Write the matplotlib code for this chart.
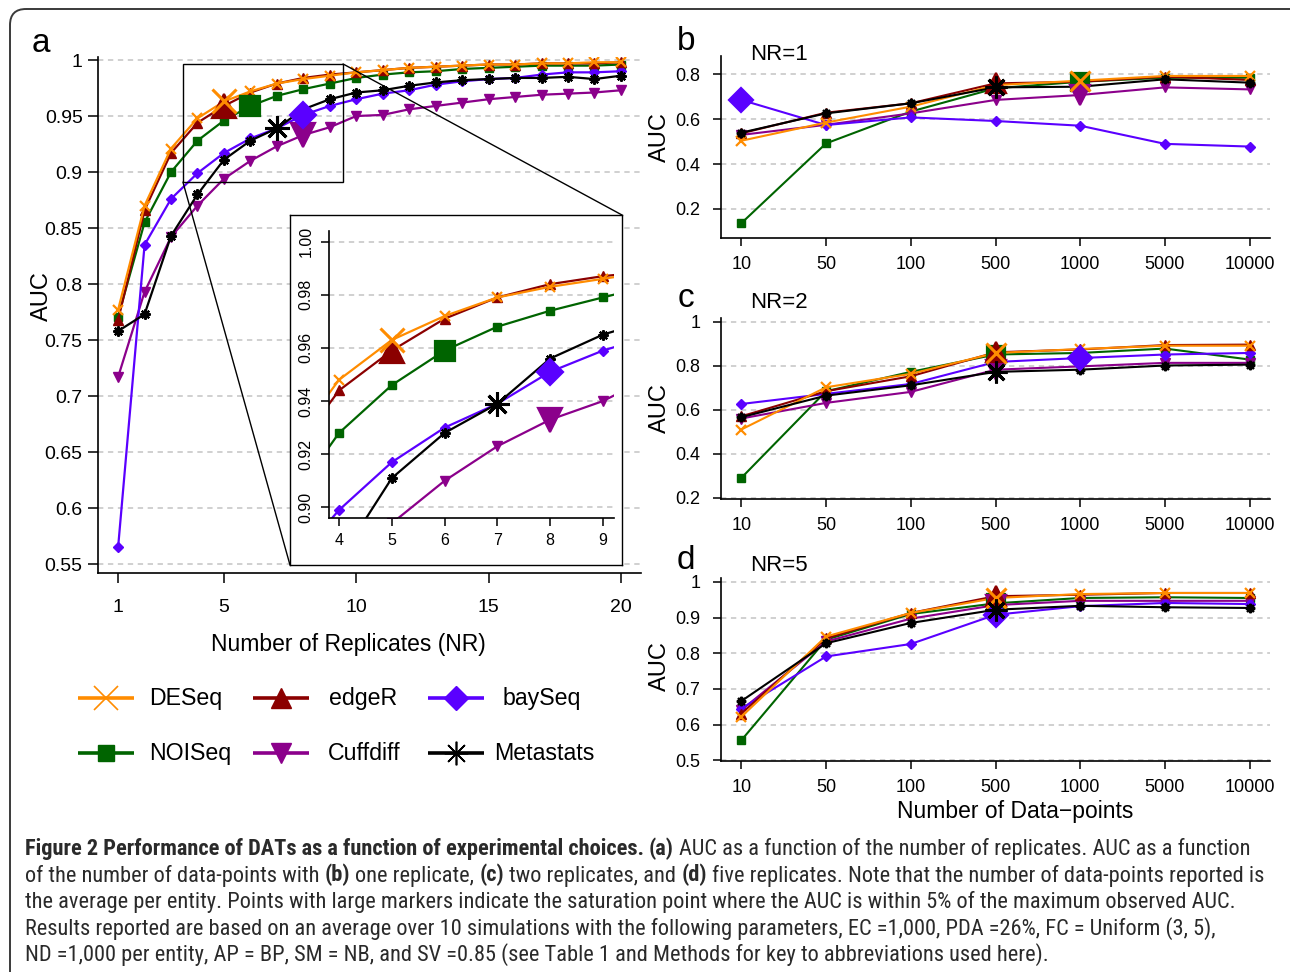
import matplotlib
matplotlib.use('Agg')
import matplotlib.pyplot as plt
from matplotlib.patches import Rectangle, FancyBboxPatch, ConnectionPatch
from matplotlib import font_manager

W, H = 1290, 972
plt.rcParams['font.family'] = ['Liberation Sans', 'DejaVu Sans']

# ---- data: panel a, AUC vs number of replicates ----
nr = list(range(1, 21))
deseq_a = [0.777, 0.870, 0.921, 0.948, 0.963, 0.972, 0.979, 0.983, 0.986, 0.989,
           0.991, 0.993, 0.994, 0.995, 0.996, 0.996, 0.997, 0.997, 0.998, 0.998]
edger_a = [0.768, 0.866, 0.917, 0.944, 0.959, 0.971, 0.979, 0.984, 0.987, 0.989,
           0.991, 0.993, 0.994, 0.995, 0.996, 0.996, 0.997, 0.997, 0.997, 0.998]
bayseq_a = [0.565, 0.835, 0.876, 0.899, 0.917, 0.930, 0.939, 0.951, 0.959, 0.965,
            0.970, 0.973, 0.978, 0.981, 0.983, 0.984, 0.987, 0.989, 0.989, 0.990]
noiseq_a = [0.771, 0.855, 0.900, 0.928, 0.946, 0.959, 0.968, 0.974, 0.979, 0.984,
            0.987, 0.989, 0.990, 0.992, 0.993, 0.994, 0.995, 0.995, 0.995, 0.996]
cuffdiff_a = [0.717, 0.793, 0.842, 0.870, 0.894, 0.910, 0.923, 0.933, 0.940, 0.950,
              0.951, 0.956, 0.959, 0.962, 0.965, 0.967, 0.969, 0.970, 0.971, 0.973]
metastats_a = [0.758, 0.773, 0.843, 0.880, 0.911, 0.928, 0.939, 0.956, 0.965, 0.971,
               0.973, 0.977, 0.980, 0.982, 0.983, 0.984, 0.984, 0.985, 0.983, 0.986]
# index of the saturation point (large marker)
sat_a = {'DESeq': 4, 'edgeR': 4, 'baySeq': 7, 'NOISeq': 5, 'Cuffdiff': 7, 'Metastats': 6}

# ---- data: panels b-d, AUC vs number of data-points ----
dp_labels = ['10', '50', '100', '500', '1000', '5000', '10000']

deseq_b = [0.504, 0.585, 0.656, 0.752, 0.772, 0.793, 0.793]
edger_b = [0.537, 0.629, 0.671, 0.760, 0.767, 0.790, 0.775]
bayseq_b = [0.686, 0.574, 0.608, 0.592, 0.571, 0.490, 0.478]
noiseq_b = [0.136, 0.492, 0.634, 0.738, 0.767, 0.785, 0.785]
cuffdiff_b = [0.530, 0.575, 0.626, 0.686, 0.708, 0.742, 0.733]
metastats_b = [0.540, 0.626, 0.671, 0.742, 0.745, 0.778, 0.763]
sat_b = {'DESeq': 4, 'edgeR': 3, 'baySeq': 0, 'NOISeq': 4, 'Cuffdiff': 4, 'Metastats': 3}

deseq_c = [0.511, 0.703, 0.764, 0.859, 0.877, 0.892, 0.892]
edger_c = [0.571, 0.685, 0.753, 0.862, 0.875, 0.895, 0.897]
bayseq_c = [0.627, 0.673, 0.718, 0.818, 0.836, 0.852, 0.859]
noiseq_c = [0.291, 0.685, 0.773, 0.852, 0.859, 0.879, 0.829]
cuffdiff_c = [0.561, 0.632, 0.682, 0.783, 0.798, 0.814, 0.814]
metastats_c = [0.567, 0.665, 0.712, 0.773, 0.783, 0.802, 0.806]
sat_c = {'DESeq': 3, 'edgeR': 3, 'baySeq': 4, 'NOISeq': 3, 'Cuffdiff': 3, 'Metastats': 3}

deseq_d = [0.622, 0.847, 0.913, 0.955, 0.966, 0.969, 0.969]
edger_d = [0.631, 0.842, 0.913, 0.960, 0.964, 0.969, 0.969]
bayseq_d = [0.645, 0.791, 0.826, 0.908, 0.932, 0.941, 0.938]
noiseq_d = [0.556, 0.838, 0.910, 0.940, 0.955, 0.957, 0.955]
cuffdiff_d = [0.641, 0.833, 0.897, 0.935, 0.947, 0.947, 0.947]
metastats_d = [0.666, 0.828, 0.885, 0.922, 0.933, 0.929, 0.927]
sat_d = {'DESeq': 3, 'edgeR': 3, 'baySeq': 3, 'NOISeq': 3, 'Cuffdiff': 3, 'Metastats': 3}

methods = ['DESeq', 'edgeR', 'baySeq', 'NOISeq', 'Cuffdiff', 'Metastats']
colors = {'DESeq': '#ff8c00', 'edgeR': '#8b0000', 'baySeq': '#5a00ff',
          'NOISeq': '#006400', 'Cuffdiff': '#8b008b', 'Metastats': '#000000'}
asterisk = (8, 2, 0)
markers = {'DESeq': 'x', 'edgeR': '^', 'baySeq': 'D', 'NOISeq': 's',
           'Cuffdiff': 'v', 'Metastats': asterisk}
msize = {'DESeq': 1.0, 'edgeR': 1.0, 'baySeq': 0.8, 'NOISeq': 0.85,
         'Cuffdiff': 1.0, 'Metastats': 1.05}
draw_order = ['NOISeq', 'Cuffdiff', 'baySeq', 'edgeR', 'DESeq', 'Metastats']

fig = plt.figure(figsize=(W / 100, H / 100), dpi=100)


def px_axes(l, t, r, b, **kw):
    return fig.add_axes([l / W, 1 - b / H, (r - l) / W, (b - t) / H], **kw)


def style(ax, size):
    for s in ['top', 'right']:
        ax.spines[s].set_visible(False)
    for s in ['left', 'bottom']:
        ax.spines[s].set_linewidth(1.2)
    ax.tick_params(direction='out', length=7, width=1.1, labelsize=size, colors='black')


def grid(ax, ys):
    for y in ys:
        ax.axhline(y, color='#c4c4c4', lw=1.1, dashes=(3.5, 3), zorder=0.5)


def draw(ax, x, data, sat, small, big, lw):
    for m in draw_order:
        y = data[m]
        mew = 1.6 if m in ('DESeq', 'Metastats') else 1
        ax.plot(x, y, color=colors[m], lw=lw, marker=markers[m], ms=small * msize[m],
                mfc=colors[m], mec=colors[m], mew=mew, zorder=2)
        i = sat[m]
        ax.plot([x[i]], [y[i]], marker=markers[m], ms=big * msize[m], color=colors[m],
                mfc=colors[m], mec=colors[m], mew=mew + 0.6, zorder=3)


# ---- panel a ----
ax_a = px_axes(98, 57, 641, 573)
style(ax_a, 14)
ax_a.set_xlim(0.24, 20.76)
ax_a.set_ylim(0.542, 1.0027)
yt = [0.55, 0.6, 0.65, 0.7, 0.75, 0.8, 0.85, 0.9, 0.95, 1.0]
ax_a.set_yticks(yt)
ax_a.set_yticklabels(['0.55', '0.6', '0.65', '0.7', '0.75', '0.8', '0.85', '0.9', '0.95', '1'])
ax_a.set_xticks([1, 5, 10, 15, 20])
ax_a.tick_params(axis='x', pad=12)
ax_a.tick_params(axis='y', pad=4)
grid(ax_a, yt)
data_a = {'DESeq': deseq_a, 'edgeR': edger_a, 'baySeq': bayseq_a, 'NOISeq': noiseq_a,
          'Cuffdiff': cuffdiff_a, 'Metastats': metastats_a}
draw(ax_a, nr, data_a, sat_a, 7, 17, 1.6)
ax_a.add_patch(Rectangle((3.45, 0.891), 6.05, 0.1055, fill=False, ec='black', lw=1, zorder=4))

# inset box and zoomed axes
box = px_axes(290, 215, 622, 565)
box.set_xticks([])
box.set_yticks([])
for s in box.spines.values():
    s.set_linewidth(1)
ins = px_axes(329, 231, 614, 518)
style(ins, 11.5)
ins.set_xlim(3.81, 9.21)
ins.set_ylim(0.896, 1.004)
it = [0.90, 0.92, 0.94, 0.96, 0.98, 1.00]
ins.set_yticks(it)
ins.set_yticklabels(['0.90', '0.92', '0.94', '0.96', '0.98', '1.00'], rotation=90, va='center')
ins.set_xticks([4, 5, 6, 7, 8, 9])
ins.tick_params(length=6, pad=5)
grid(ins, it)
draw(ins, nr, data_a, sat_a, 7, 17, 1.6)

# ---- panels b-d ----
xp = list(range(1, 8))
panels = [
    ((56, 238), (0.07, 0.882), [0.2, 0.4, 0.6, 0.8], ['0.2', '0.4', '0.6', '0.8'],
     {'DESeq': deseq_b, 'edgeR': edger_b, 'baySeq': bayseq_b, 'NOISeq': noiseq_b,
      'Cuffdiff': cuffdiff_b, 'Metastats': metastats_b}, sat_b),
    ((318, 499), (0.195, 1.018), [0.2, 0.4, 0.6, 0.8, 1.0], ['0.2', '0.4', '0.6', '0.8', '1'],
     {'DESeq': deseq_c, 'edgeR': edger_c, 'baySeq': bayseq_c, 'NOISeq': noiseq_c,
      'Cuffdiff': cuffdiff_c, 'Metastats': metastats_c}, sat_c),
    ((578, 761), (0.498, 1.011), [0.5, 0.6, 0.7, 0.8, 0.9, 1.0],
     ['0.5', '0.6', '0.7', '0.8', '0.9', '1'],
     {'DESeq': deseq_d, 'edgeR': edger_d, 'baySeq': bayseq_d, 'NOISeq': noiseq_d,
      'Cuffdiff': cuffdiff_d, 'Metastats': metastats_d}, sat_d),
]
for (top, bot), ylim, ticks, labels, data, sat in panels:
    ax = px_axes(721, top, 1270, bot)
    style(ax, 13)
    ax.set_xlim(0.76, 7.24)
    ax.set_ylim(*ylim)
    ax.set_yticks(ticks)
    ax.set_yticklabels(labels)
    ax.set_xticks(xp)
    ax.set_xticklabels(dp_labels)
    ax.tick_params(axis='x', length=6, pad=7)
    ax.tick_params(axis='y', length=6, pad=9)
    grid(ax, ticks)
    draw(ax, xp, data, sat, 6.5, 15, 1.5)

# ---- overlay for labels, legend, caption ----
ov = fig.add_axes([0, 0, 1, 1], zorder=10)
ov.set_xlim(0, W)
ov.set_ylim(H, 0)
ov.axis('off')

ov.add_patch(FancyBboxPatch((10, 9), 1296, 995, boxstyle='round,pad=0,rounding_size=16',
                            fill=False, ec='#3a3a3a', lw=1.4))
for xy_a, xy_b in [((3.45, 0.891), (290, 565)), ((9.50, 0.9965), (622, 215))]:
    ov.add_artist(ConnectionPatch(xyA=xy_a, coordsA=ax_a.transData, xyB=xy_b,
                                  coordsB=ov.transData, color='black', lw=1))

for s, x, y in [('a', 41, 44), ('b', 686, 42), ('c', 686, 298), ('d', 686, 560)]:
    ov.text(x, y, s, fontsize=24, ha='center', va='center')
for s, y in [('NR=1', 55), ('NR=2', 302), ('NR=5', 565)]:
    ov.text(750, y, s, fontsize=16, ha='left', va='center')
ov.text(42, 296, 'AUC', fontsize=17, rotation=90, ha='center', va='center')
for y in [137, 408, 666]:
    ov.text(660, y, 'AUC', fontsize=17, rotation=90, ha='center', va='center')
ov.text(348, 644, 'Number of Replicates (NR)', fontsize=16.5, ha='center', va='center')
ov.text(1015, 811, 'Number of Data\u2212points', fontsize=16.5, ha='center', va='center')

# legend
leg_x = [78, 253, 428]
leg_tx = {'DESeq': 149, 'edgeR': 329, 'baySeq': 503, 'NOISeq': 149, 'Cuffdiff': 328,
          'Metastats': 494}
leg_ms = {'DESeq': 17, 'edgeR': 15, 'baySeq': 12, 'NOISeq': 12, 'Cuffdiff': 15,
          'Metastats': 17}
for i, m in enumerate(methods):
    x0 = leg_x[i % 3]
    y = [698, 753][i // 3]
    ov.plot([x0, x0 + 56], [y, y], color=colors[m], lw=2.6, solid_capstyle='butt')
    ov.plot([x0 + 28], [y], marker=markers[m], ms=leg_ms[m], color=colors[m],
            mfc=colors[m], mec=colors[m], mew=1.2 if m in ('DESeq', 'Metastats') else 1)
    ov.text(leg_tx[m], y, m, fontsize=16.7, ha='left', va='center')

# caption with mixed bold/normal pieces, in a narrow font if one is installed
names = {f.name for f in font_manager.fontManager.ttflist}
condensed = {f.name for f in font_manager.fontManager.ttflist
             if str(f.stretch) in ('condensed', 'semi-condensed', '500', '600', '700')}
cap_font, cap_stretch = 'Open Sans', 'normal'
for cand in ['Liberation Sans Narrow', 'Roboto Condensed', 'Open Sans Condensed',
             'Noto Sans Condensed']:
    if cand in names:
        cap_font = cand
        break
else:
    if 'DejaVu Sans' in condensed:
        cap_font, cap_stretch = 'DejaVu Sans', 'condensed'
    elif 'Open Sans' not in names:
        cap_font = 'Liberation Sans'
rend = fig.canvas.get_renderer()


def text_w(s, size, bold=False):
    t = ov.text(0, 0, s, fontsize=size, family=cap_font, fontstretch=cap_stretch,
                fontweight='bold' if bold else 'normal')
    w = t.get_window_extent(renderer=rend).width
    t.remove()
    return w


cap_lines = [
    [("Figure 2 Performance of DATs as a function of experimental choices.", True),
     ("(a)", True), ("AUC as a function of the number of replicates. AUC as a function", False)],
    [("of the number of data-points with", False), ("(b)", True), ("one replicate,", False),
     ("(c)", True), ("two replicates, and", False), ("(d)", True),
     ("five replicates. Note that the number of data-points reported is", False)],
    [("the average per entity. Points with large markers indicate the saturation point "
      "where the AUC is within 5% of the maximum observed AUC.", False)],
    [("Results reported are based on an average over 10 simulations with the following "
      "parameters, EC =1,000, PDA =26%, FC = Uniform (3, 5),", False)],
    [("ND =1,000 per entity, AP = BP, SM = NB, and SV =0.85 (see Table 1 and Methods "
      "for key to abbreviations used here).", False)],
]
# right ends of the first three lines in the figure
cap_right = [1262, 1255, 1222]


def line_w(pieces, size):
    sp = text_w('a a', size) - text_w('aa', size)
    return sum(text_w(s, size, b) for s, b in pieces) + sp * (len(pieces) - 1)


cap_size = min(10 * (r - 25) / line_w(p, 10) for p, r in zip(cap_lines, cap_right))
space = text_w('a a', cap_size) - text_w('aa', cap_size)
for k, pieces in enumerate(cap_lines):
    x = 25
    y = 855 + k * 26.5
    for s, bold in pieces:
        ov.text(x, y, s, fontsize=cap_size, family=cap_font, fontstretch=cap_stretch,
                color='#2a2a2a', fontweight='bold' if bold else 'normal',
                ha='left', va='baseline')
        x += text_w(s, cap_size, bold) + space

fig.savefig('out.png', dpi=100)
